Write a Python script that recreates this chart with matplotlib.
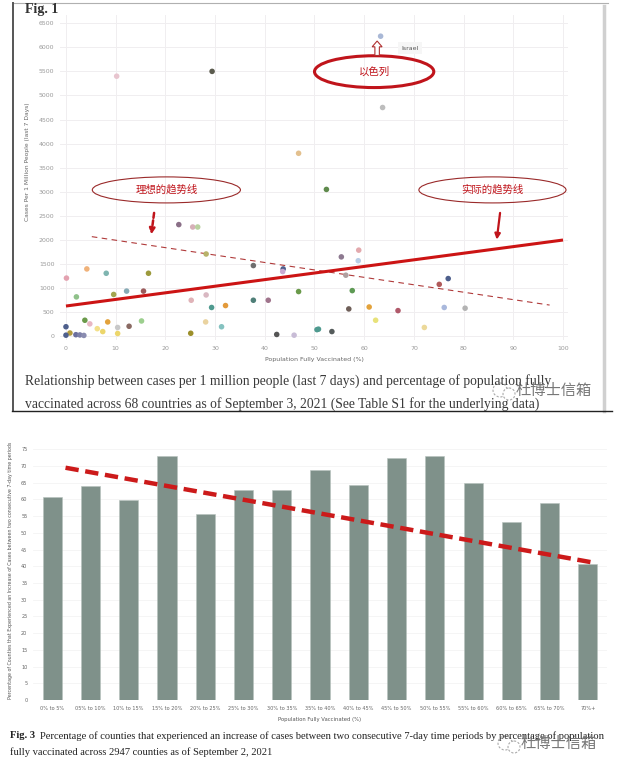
import matplotlib
matplotlib.use("Agg")
import matplotlib.pyplot as plt
from matplotlib.patches import Ellipse, FancyArrow, Circle
import numpy as np

plt.rcParams['font.family'] = ['DejaVu Sans', 'Noto Sans CJK SC']
CJK = ['Noto Sans CJK SC', 'DejaVu Sans']
SERIF = ['Liberation Serif', 'DejaVu Serif']

# ---- Fig. 1 data : cases per 1M (last 7 days) vs % fully vaccinated
vacc_pct = [10.2, 29.4, 46.8, 63.3, 63.7, 52.4, 22.7, 25.5, 26.5, 28.2,
            37.7, 43.7, 43.6, 0.1, 4.2, 8.1, 16.6, 2.1, 9.6, 12.2,
            15.6, 25.2, 28.2, 29.3, 32.1, 37.7, 40.7, 46.8, 3.8, 0.0,
            4.8, 6.3, 7.4, 8.4, 10.4, 12.7, 15.2, 10.4, 0.8, 0.0,
            2.0, 2.8, 3.6, 25.1, 28.1, 31.3, 42.4, 45.9, 50.5, 58.9,
            55.4, 58.8, 56.3, 76.9, 75.1, 57.6, 56.9, 61.0, 66.8, 76.1,
            80.3, 62.3, 72.1, 50.8, 53.5]
cases_1m = [5400, 5500, 3800, 6230, 4750, 3050, 2320, 2270, 2270, 1710,
            1470, 1400, 1345, 1210, 1400, 1310, 1310, 820, 870, 940,
            940, 750, 860, 600, 640, 750, 750, 930, 335, 200,
            260, 160, 100, 300, 185, 210, 320, 60, 70, 25,
            35, 30, 20, 65, 300, 200, 40, 25, 140, 1790,
            1650, 1570, 1270, 1200, 1080, 950, 570, 610, 535, 600,
            585, 335, 185, 150, 100]
dot_colors = ['#e8c5cf', '#5b5b4e', '#e3c08e', '#a9b8d6', '#bdbdbd', '#5f8a4c', '#8a6f87', '#d6b0b8', '#b9d1a0', '#b8b26a',
              '#6e6e6e', '#4e5f8c', '#c9a9d1', '#e3a2b0', '#f0b27a', '#7fb5b0', '#9c9a3c', '#8fc18a', '#a3a54f', '#86aab5',
              '#9b5b5b', '#e0b3b8', '#d9b8c2', '#4f9a8f', '#e39a3b', '#4f7f78', '#a0748c', '#6a9a4a', '#6a9a4a', '#4e5f8c',
              '#e8b7c3', '#f3e08a', '#ecd66b', '#e3a23b', '#c8c8c8', '#8a6a63', '#9ccf8e', '#ecd66b', '#b39b3d', '#4e5f8c',
              '#6a6f9e', '#7c7fa8', '#8a8cb0', '#9c8f2a', '#ead3a0', '#85c2c0', '#555555', '#c8bcd6', '#4f9a8f', '#e3a9ad',
              '#8d7990', '#b8cde6', '#b0a0a0', '#4e5f8c', '#b05a5a', '#5e9a54', '#6e5e58', '#e3a23b', '#b0596a', '#a9b8dc',
              '#b3b3b3', '#e8e27a', '#ecd99a', '#4f9a8f', '#555b5b']
actual_trend_x = [0, 100]
actual_trend_y = [630, 2000]
ideal_trend_x = [5.2, 97.3]
ideal_trend_y = [2070, 650]

# ---- Fig. 3 data : % of counties with increase, by vaccination band
bands = ['0% to 5%', '05% to 10%', '10% to 15%', '15% to 20%', '20% to 25%',
         '25% to 30%', '30% to 35%', '35% to 40%', '40% to 45%', '45% to 50%',
         '50% to 55%', '55% to 60%', '60% to 65%', '65% to 70%', '70%+']
pct_counties = [60.7, 64.0, 59.7, 73.0, 55.7, 62.8, 62.8, 68.9, 64.4, 72.3,
                72.9, 64.8, 53.2, 58.8, 40.8]
bar_trend_x = [0.35, 14.2]
bar_trend_y = [69.5, 41.0]

W, H = 640, 773


def box(l, t, r, b):
    # pixel box -> figure fraction rect
    return [l / W, 1 - b / H, (r - l) / W, (b - t) / H]


fig = plt.figure(figsize=(6.4, 7.73), dpi=100)

# background layer in pixel coordinates: frame, captions, watermark
bg = fig.add_axes([0, 0, 1, 1])
bg.set_xlim(0, W)
bg.set_ylim(H, 0)
bg.axis('off')
bg.plot([13, 608], [3, 3], color='#b0b0b0', lw=0.8)
bg.plot([13, 13], [3, 411], color='#555555', lw=1.4)
bg.plot([604, 604], [6, 411], color='#d0d0d0', lw=2.5)
bg.plot([12, 612], [411, 411], color='#222222', lw=1.0)
bg.text(25, 10, 'Fig. 1', fontsize=10, fontweight='bold', family=SERIF, color='#333333', va='center')
bg.text(25, 381, 'Relationship between cases per 1 million people (last 7 days) and percentage of population fully',
        fontsize=9.8, family=SERIF, color='#3a3a3a', va='center')
bg.text(25, 404, 'vaccinated across 68 countries as of September 3, 2021 (See Table S1 for the underlying data)',
        fontsize=9.8, family=SERIF, color='#3a3a3a', va='center')

bg.text(10, 736, 'Fig. 3', fontsize=7.6, fontweight='bold', family=SERIF, color='#222222', va='center')
bg.text(40, 736, 'Percentage of counties that experienced an increase of cases between two consecutive 7-day time periods by percentage of population',
        fontsize=7.6, family=SERIF, color='#222222', va='center')
bg.text(10, 752, 'fully vaccinated across 2947 counties as of September 2, 2021',
        fontsize=7.6, family=SERIF, color='#222222', va='center')

# watermarks
for wx, wy in [(500, 390), (505, 743)]:
    bg.add_patch(Circle((wx, wy), 7, fill=False, ec='#aaaaaa', lw=0.8, ls=(0, (2, 1.5))))
    bg.add_patch(Circle((wx + 9, wy + 4), 6, facecolor='white', ec='#aaaaaa', lw=0.8, ls=(0, (2, 1.5))))
    bg.text(wx + 16, wy, '杜博士信箱', family=CJK, fontsize=11, color='#777777', va='center')

# ---- Fig. 1 scatter
ax1 = fig.add_axes(box(60, 15, 568, 340))
ax1.set_xlim(-1.2, 101)
ax1.set_ylim(-75, 6670)
ax1.set_xticks(np.arange(0, 101, 10))
ax1.set_yticks(np.arange(0, 6501, 500))
ax1.grid(True, color='#f0eef0', lw=0.7)
ax1.set_axisbelow(True)
for s in ax1.spines.values():
    s.set_visible(False)
ax1.tick_params(length=0, labelsize=4.5, labelcolor='#9a9a9a', pad=4)
ax1.set_xlabel('Population Fully Vaccinated (%)', fontsize=4.5, color='#666666', labelpad=5)
ax1.set_ylabel('Cases Per 1 Million People (last 7 Days)', fontsize=4.3, color='#666666', labelpad=8)
ax1.yaxis.set_label_coords(-0.06, 0.55)

ax1.scatter(vacc_pct, cases_1m, s=16, c=dot_colors, edgecolors='none', zorder=3)
ax1.plot(ideal_trend_x, ideal_trend_y, color='#b03a3a', lw=0.8, ls=(0, (5, 4)), zorder=2)
ax1.plot(actual_trend_x, actual_trend_y, color='#cc1414', lw=2.2, zorder=4, solid_capstyle='butt')

# annotations
ann_red = '#c0141b'
ax1.add_patch(Ellipse((20.2, 3040), 29.8, 540, fill=False, ec='#9a2a2a', lw=0.8, clip_on=False))
ax1.text(20.2, 3040, '理想的趋势线', family=CJK, fontsize=7.5, color=ann_red, ha='center', va='center')
ax1.add_patch(Ellipse((85.8, 3040), 29.6, 540, fill=False, ec='#9a2a2a', lw=0.8, clip_on=False))
ax1.text(85.8, 3040, '实际的趋势线', family=CJK, fontsize=7.5, color=ann_red, ha='center', va='center')
ax1.add_patch(Ellipse((62.0, 5494), 24.0, 660, fill=False, ec='#c0141b', lw=2.2, clip_on=False))
ax1.text(62.0, 5494, '以色列', family=CJK, fontsize=7.5, color=ann_red, ha='center', va='center')

ax1.annotate('', xy=(17.1, 2060), xytext=(17.8, 2620),
             arrowprops=dict(arrowstyle='-|>', color=ann_red, lw=1.8, ls=(0, (2, 1)), mutation_scale=8))
ax1.annotate('', xy=(86.6, 1950), xytext=(87.4, 2620),
             arrowprops=dict(arrowstyle='-|>', color=ann_red, lw=1.6, mutation_scale=8))
ax1.add_patch(FancyArrow(62.6, 5830, 0, 300, width=0.9, head_width=2.0, head_length=120,
                         length_includes_head=True, facecolor='white', edgecolor='#b03030', lw=0.8, zorder=5))
ax1.text(67.5, 5985, 'Israel', fontsize=4.5, color='#555555', va='center',
         bbox=dict(boxstyle='square,pad=0.6', fc='#f6f6f6', ec='none'))

# ---- Fig. 3 bar chart
ax3 = fig.add_axes(box(33, 441, 607, 700))
xpos = np.arange(len(bands))
ax3.bar(xpos, pct_counties, width=0.5, color='#7f918a', edgecolor='#b7c2bd', lw=0.4, zorder=2)
ax3.plot(bar_trend_x, bar_trend_y, color='#cc1a1a', lw=3.2, ls=(0, (3, 1.5)), zorder=3)
ax3.set_xlim(-0.5, 14.5)
ax3.set_ylim(0, 77.5)
ax3.set_yticks(np.arange(0, 76, 5))
ax3.set_xticks(xpos)
ax3.set_xticklabels(bands)
ax3.grid(True, axis='y', color='#f4f4f4', lw=0.6)
ax3.set_axisbelow(True)
for s in ax3.spines.values():
    s.set_visible(False)
ax3.tick_params(length=0, labelsize=3.6, labelcolor='#666666', pad=4)
ax3.set_xlabel('Population Fully Vaccinated (%)', fontsize=3.8, color='#555555', labelpad=5)
ax3.set_ylabel('Percentage of Counties that Experienced an Increase of Cases between two consecutive 7-day time periods',
               fontsize=3.4, color='#555555', labelpad=6)

fig.savefig('out.png', dpi=100)
